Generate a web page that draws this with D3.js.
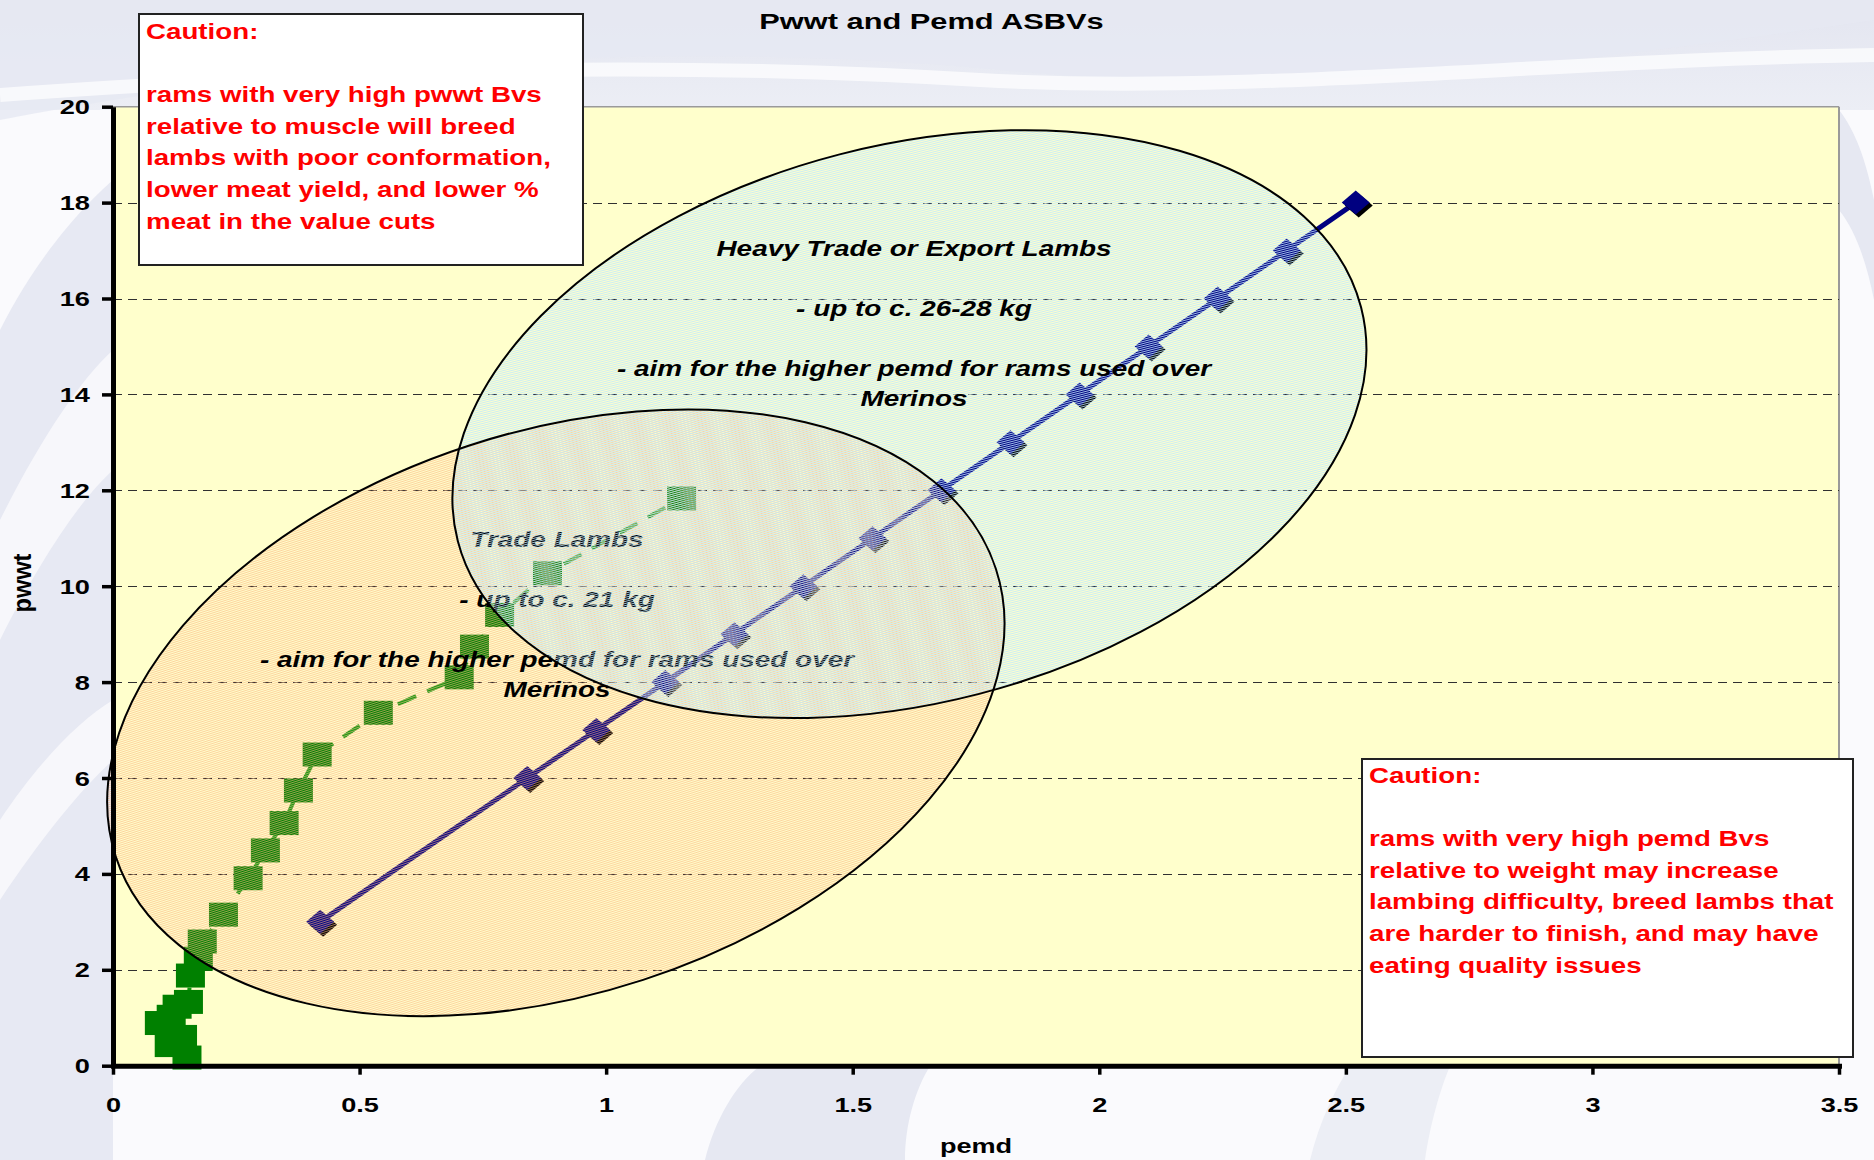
<!DOCTYPE html>
<html>
<head>
<meta charset="utf-8">
<script src="https://cdn.jsdelivr.net/npm/d3@7/dist/d3.min.js"></script>
<style>
  html, body { margin: 0; padding: 0; background: #ffffff; }
  svg { display: block; }
</style>
</head>
<body>
<svg id="chart" width="1874" height="1160"></svg>
<script>
// ---------------- DATA ----------------
const chartTitle = "Pwwt and Pemd ASBVs";
const xAxisTitle = "pemd";
const yAxisTitle = "pwwt";

const xTickValues = [0, 0.5, 1, 1.5, 2, 2.5, 3, 3.5];
const xTickLabels = ["0", "0.5", "1", "1.5", "2", "2.5", "3", "3.5"];
const yTickValues = [0, 2, 4, 6, 8, 10, 12, 14, 16, 18, 20];
const yTickLabels = ["0", "2", "4", "6", "8", "10", "12", "14", "16", "18", "20"];

// Blue series (diamonds, solid navy line)
const bluePemd = [0.42, 0.84, 0.98, 1.12, 1.26, 1.40, 1.54, 1.68, 1.82, 1.96, 2.10, 2.24, 2.38, 2.52];
const bluePwwt = [3, 6, 7, 8, 9, 10, 11, 12, 13, 14, 15, 16, 17, 18];

// Green series (squares, dashed green line)
const greenPemd = [0.150, 0.114, 0.141, 0.094, 0.118, 0.130, 0.153, 0.157, 0.173, 0.181, 0.224, 0.274,
                   0.309, 0.347, 0.376, 0.414, 0.538, 0.702, 0.733, 0.784, 0.881, 1.153];
const greenPwwt = [0.17, 0.43, 0.60, 0.89, 1.02, 1.23, 1.33, 1.88, 2.23, 2.59, 3.15, 3.91,
                   4.49, 5.06, 5.74, 6.49, 7.36, 8.10, 8.74, 9.40, 10.27, 11.83];

// Annotation texts
const tradeLines = ["Trade Lambs", "", "- up to c. 21 kg", "", "- aim for the higher pemd for rams used over", "Merinos"];
const heavyLines = ["Heavy Trade or Export Lambs", "", "- up to c. 26-28 kg", "", "- aim for the higher pemd for rams used over", "Merinos"];
const caution1Lines = ["Caution:", "", "rams with very high pwwt Bvs", "relative to muscle will breed",
                       "lambs with poor conformation,", "lower meat yield, and lower %", "meat in the value cuts"];
const caution2Lines = ["Caution:", "", "rams with very high pemd Bvs", "relative to weight may increase",
                       "lambing difficulty, breed lambs that", "are harder to finish, and may have", "eating quality issues"];

// Annotation ellipse centres (data units: pemd, pwwt)
const tradeCenter = [0.898, 7.36];
const heavyCenter = [1.615, 13.38];

// ---------------- LAYOUT / STYLE ----------------
const W = 1874, H = 1160;
const plot = { left: 113, right: 1839, top: 106.7, bottom: 1065.7 };
const FONT = "'Liberation Sans', Arial, Helvetica, sans-serif";

const svg = d3.select("#chart");
const x = d3.scaleLinear().domain([0, 3.5]).range([plot.left, plot.right]);
const y = d3.scaleLinear().domain([0, 20]).range([plot.bottom, plot.top]);

const defs = svg.append("defs");
const bgGrad = defs.append("linearGradient").attr("id", "bgTop").attr("x1", 0).attr("y1", 0).attr("x2", 0).attr("y2", 1);
bgGrad.append("stop").attr("offset", "0%").attr("stop-color", "#e3e5f0");
bgGrad.append("stop").attr("offset", "100%").attr("stop-color", "#eceef5");

const patO = defs.append("pattern").attr("id", "stripeOrange").attr("patternUnits", "userSpaceOnUse")
  .attr("width", 8).attr("height", 2);
patO.append("rect").attr("width", 8).attr("height", 1).attr("fill", "#fbb682").attr("fill-opacity", 0.62);
const patB = defs.append("pattern").attr("id", "stripeBlue").attr("patternUnits", "userSpaceOnUse")
  .attr("width", 8).attr("height", 2);
patB.append("rect").attr("width", 8).attr("height", 1).attr("fill", "#bee8ff").attr("fill-opacity", 0.82);

// ---------------- BACKGROUND ----------------
const bg = svg.append("g");
bg.append("rect").attr("width", W).attr("height", H).attr("fill", "#fafafd");
bg.append("rect").attr("width", W).attr("height", 110).attr("fill", "url(#bgTop)");
bg.append("path").attr("d", "M0,120 C300,60 700,40 1000,70 C1300,100 1600,60 1874,20 L1874,0 L0,0 Z")
  .attr("fill", "#e6e8f2").attr("opacity", 0.8);
bg.append("path").attr("d", "M0,95 C350,70 650,60 980,80 C1250,95 1550,60 1874,55")
  .attr("fill", "none").attr("stroke", "#ffffff").attr("stroke-width", 14).attr("opacity", 0.7);
bg.append("path").attr("d", "M0,330 C40,250 90,200 113,180 L113,1160 L0,1160 Z")
  .attr("fill", "#e7e9f3");
bg.append("path").attr("d", "M0,520 C40,440 80,380 113,350 L113,470 C80,500 40,560 0,640 Z")
  .attr("fill", "#f7f7fb");
bg.append("path").attr("d", "M0,820 C40,760 80,720 113,700 L113,760 C80,790 40,840 0,900 Z")
  .attr("fill", "#f7f7fb");
bg.append("path").attr("d", "M705,1160 C715,1120 735,1085 760,1066 L930,1066 C915,1090 905,1125 905,1160 Z")
  .attr("fill", "#e6e8f2");
bg.append("path").attr("d", "M1310,1160 C1320,1120 1335,1090 1350,1066 L1450,1066 C1440,1090 1430,1125 1425,1160 Z")
  .attr("fill", "#eceef5");
bg.append("path").attr("d", "M1839,110 C1855,130 1866,160 1874,200 L1874,300 C1866,260 1855,230 1839,210 Z")
  .attr("fill", "#e6e8f2");

// ---------------- PLOT AREA ----------------
svg.append("rect")
  .attr("x", plot.left).attr("y", plot.top)
  .attr("width", plot.right - plot.left).attr("height", plot.bottom - plot.top)
  .attr("fill", "#ffffcc");
svg.append("line").attr("x1", plot.left).attr("x2", plot.right).attr("y1", plot.top).attr("y2", plot.top)
  .attr("stroke", "#9a9a9a").attr("stroke-width", 1.5);
svg.append("line").attr("x1", plot.right).attr("x2", plot.right).attr("y1", plot.top).attr("y2", plot.bottom)
  .attr("stroke", "#9a9a9a").attr("stroke-width", 2);

// gridlines
svg.append("g").selectAll("line")
  .data(yTickValues.filter(v => v > 0 && v < 20))
  .join("line")
  .attr("x1", plot.left).attr("x2", plot.right)
  .attr("y1", d => Math.round(y(d)) + 0.5).attr("y2", d => Math.round(y(d)) + 0.5)
  .attr("stroke", "#303030").attr("stroke-width", 1.2)
  .attr("stroke-dasharray", "9,6");

// ---------------- SERIES ----------------
const greenData = greenPemd.map((p, i) => ({ pemd: p, pwwt: greenPwwt[i] }));
const blueData = bluePemd.map((p, i) => ({ pemd: p, pwwt: bluePwwt[i] }));
const line = d3.line().x(d => x(d.pemd)).y(d => y(d.pwwt));

const series = svg.append("g");
series.append("path").datum(greenData)
  .attr("d", line).attr("fill", "none")
  .attr("stroke", "#109a10").attr("stroke-width", 4)
  .attr("stroke-dasharray", "20,12");
series.append("g").selectAll("rect").data(greenData).join("rect")
  .attr("x", d => x(d.pemd) - 14.5).attr("y", d => y(d.pwwt) - 12)
  .attr("width", 29).attr("height", 24)
  .attr("fill", "#008000");

series.append("path").datum(blueData)
  .attr("d", line).attr("fill", "none")
  .attr("stroke", "#000080").attr("stroke-width", 5);
const diamond = "M0,-12L14,0L0,12L-14,0Z";
const dg = series.append("g").selectAll("g").data(blueData).join("g")
  .attr("transform", d => `translate(${x(d.pemd)},${y(d.pwwt)})`);
dg.append("path").attr("d", diamond).attr("transform", "translate(3,3)").attr("fill", "#000000");
dg.append("path").attr("d", diamond).attr("fill", "#000080");

// ---------------- TEXT HELPER ----------------
function stretchText(g, t, opts) {
  return g.append("text")
    .attr("transform", `translate(${opts.x},${opts.y}) scale(${opts.sx || 1},1)`)
    .attr("text-anchor", opts.anchor || "start")
    .attr("font-family", FONT)
    .attr("font-size", opts.size)
    .attr("font-weight", opts.weight || "bold")
    .attr("font-style", opts.italic ? "italic" : "normal")
    .attr("fill", opts.fill || "#000")
    .text(t);
}

// ---------------- ELLIPSES ----------------
const annot = svg.append("g");
annot.append("ellipse")
  .attr("transform", `translate(${x(tradeCenter[0])},${y(tradeCenter[1])}) rotate(-18.1)`)
  .attr("rx", 463).attr("ry", 281)
  .attr("fill", "url(#stripeOrange)").attr("stroke", "none");

const tradeText = annot.append("g");
tradeLines.forEach((t, i) => {
  if (!t) return;
  stretchText(tradeText, t, { x: 557, y: y(10.818) + i * 30, size: 22, sx: 1.27, anchor: "middle", italic: true });
});

annot.append("ellipse")
  .attr("transform", `translate(${x(heavyCenter[0])},${y(heavyCenter[1])}) rotate(-14.5)`)
  .attr("rx", 466.5).attr("ry", 278.6)
  .attr("fill", "url(#stripeBlue)").attr("stroke", "none");

annot.append("ellipse")
  .attr("transform", `translate(${x(tradeCenter[0])},${y(tradeCenter[1])}) rotate(-18.1)`)
  .attr("rx", 463).attr("ry", 281)
  .attr("fill", "none").attr("stroke", "#000").attr("stroke-width", 2);
annot.append("ellipse")
  .attr("transform", `translate(${x(heavyCenter[0])},${y(heavyCenter[1])}) rotate(-14.5)`)
  .attr("rx", 466.5).attr("ry", 278.6)
  .attr("fill", "none").attr("stroke", "#000").attr("stroke-width", 2);

const heavyText = annot.append("g");
heavyLines.forEach((t, i) => {
  if (!t) return;
  stretchText(heavyText, t, { x: 914, y: y(16.886) + i * 30, size: 22, sx: 1.27, anchor: "middle", italic: true });
});

// ---------------- AXES ----------------
const yAxis = d3.axisLeft(y).tickValues(yTickValues).tickFormat((d, i) => yTickLabels[i])
  .tickSize(11).tickSizeOuter(0);
const gy = svg.append("g").attr("transform", `translate(${plot.left},0)`).call(yAxis);
gy.select(".domain").attr("stroke", "#000").attr("stroke-width", 5);
gy.selectAll(".tick line").attr("stroke", "#000").attr("stroke-width", 3.5);
gy.selectAll(".tick text")
  .attr("x", null).attr("dy", null)
  .attr("transform", "translate(-23,7) scale(1.36,1)")
  .attr("text-anchor", "end")
  .attr("font-family", FONT).attr("font-size", 20).attr("font-weight", "bold").attr("fill", "#000");

const xAxis = d3.axisBottom(x).tickValues(xTickValues).tickFormat((d, i) => xTickLabels[i])
  .tickSize(9).tickSizeOuter(0);
const gx = svg.append("g").attr("transform", `translate(0,${plot.bottom})`).call(xAxis);
gx.select(".domain").attr("stroke", "#000").attr("stroke-width", 5).attr("stroke-linecap", "square");
gx.selectAll(".tick line").attr("stroke", "#000").attr("stroke-width", 3.5);
gx.selectAll(".tick text")
  .attr("y", null).attr("dy", null)
  .attr("transform", "translate(0,46) scale(1.29,1)")
  .attr("text-anchor", "middle")
  .attr("font-family", FONT).attr("font-size", 21).attr("font-weight", "bold").attr("fill", "#000");

// axis titles
stretchText(svg, xAxisTitle, { x: 976, y: 1153, size: 21, sx: 1.29, anchor: "middle" });
svg.append("text")
  .attr("transform", "translate(31,583) rotate(-90) scale(1.18,1.3)")
  .attr("text-anchor", "middle")
  .attr("font-family", FONT).attr("font-size", 20).attr("font-weight", "bold").attr("fill", "#000")
  .text(yAxisTitle);

// title
stretchText(svg, chartTitle, { x: 931.5, y: 29, size: 22, sx: 1.4, anchor: "middle" });

// ---------------- CAUTION BOXES ----------------
function cautionBox(x0, y0, w, h, lines, firstBaseline) {
  const g = svg.append("g");
  g.append("rect").attr("x", x0).attr("y", y0).attr("width", w).attr("height", h)
    .attr("fill", "#ffffff").attr("stroke", "#222").attr("stroke-width", 2);
  lines.forEach((t, i) => {
    if (!t) return;
    stretchText(g, t, { x: x0 + 7, y: firstBaseline + i * 31.6, size: 22, sx: 1.26, anchor: "start", fill: "#ff0000" });
  });
}
cautionBox(139, 14, 444, 251, caution1Lines, 39);
cautionBox(1362, 759, 491, 298, caution2Lines, 783);
</script>
</body>
</html>
